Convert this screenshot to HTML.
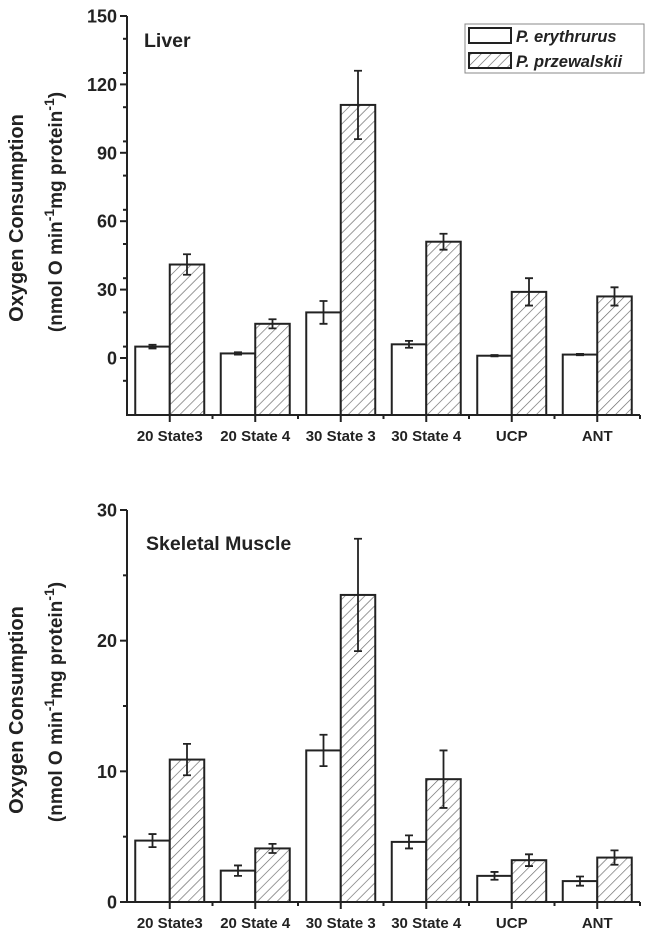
<!DOCTYPE html>
<html><head><meta charset="utf-8"><style>
html,body{margin:0;padding:0;background:#fff;}
svg{display:block;font-family:"Liberation Sans",Arial,sans-serif;}
</style></head><body>
<svg id="c" width="653" height="936" viewBox="0 0 653 936">
<defs>
<pattern id="hatch" patternUnits="userSpaceOnUse" width="7" height="7" patternTransform="rotate(45)">
<rect width="7" height="7" fill="#fff"/><line x1="0" y1="0" x2="0" y2="7" stroke="#666" stroke-width="1.3"/>
</pattern>
</defs>
</svg>
<script>
const categories = ["20 State3","20 State 4","30 State 3","30 State 4","UCP","ANT"];
const liverEry = [5, 2, 20, 6, 1, 1.5];
const liverEryErr = [0.8, 0.5, 5, 1.5, 0.3, 0.3];
const liverPrz = [41, 15, 111, 51, 29, 27];
const liverPrzErr = [4.5, 2, 15, 3.5, 6, 4];
const liverTicks = [0, 30, 60, 90, 120, 150];
const muscleEry = [4.7, 2.4, 11.6, 4.6, 2.0, 1.6];
const muscleEryErr = [0.5, 0.4, 1.2, 0.5, 0.3, 0.35];
const musclePrz = [10.9, 4.1, 23.5, 9.4, 3.2, 3.4];
const musclePrzErr = [1.2, 0.35, 4.3, 2.2, 0.45, 0.55];
const muscleTicks = [0, 10, 20, 30];

const svg = document.getElementById('c');
const NS = 'http://www.w3.org/2000/svg';
function mk(tag, attrs, parent){const e=document.createElementNS(NS,tag);for(const k in attrs)e.setAttribute(k,attrs[k]);(parent||svg).appendChild(e);return e;}

function panel(cfg){
  const g = mk('g',{});
  
  
  const x0=127, x1=640;
  const y = v => cfg.yTop + (cfg.vMax - v) / (cfg.vMax - cfg.vMin) * (cfg.yBot - cfg.yTop);
  const step = (x1 - x0) / categories.length;
  const xc = i => x0 + step * (i + 0.5);
  const bw = 34.5;
  for (let i=0;i<categories.length;i++){
    [[cfg.ery, cfg.eryErr, -1, '#fff', 'bar-erythrurus-'], [cfg.prz, cfg.przErr, 0, 'url(#hatch)', 'bar-przewalskii-']].forEach(([vals, errs, off, fill, nm])=>{
      const bx = xc(i) + off*bw;
      const top = y(vals[i]);
      const r = mk('rect',{x:bx,y:top,width:bw,height:cfg.yBot-top,fill:fill,stroke:'#222','stroke-width':2},g);
      
      
      const cx = bx + bw/2, ya = y(vals[i]+errs[i]), yb = y(vals[i]-errs[i]);
      const eb = mk('path',{d:`M${cx},${ya}V${yb}M${cx-4},${ya}H${cx+4}M${cx-4},${yb}H${cx+4}`,stroke:'#222','stroke-width':1.8,fill:'none'},g);
      
      
    });
  }
  mk('path',{d:`M${x0},${cfg.yTop}V${cfg.yBot}H${x1}`,stroke:'#222','stroke-width':2,fill:'none'},g);
  cfg.ticks.forEach((t,k)=>{
    const ty=y(t);
    mk('line',{x1:x0-7,y1:ty,x2:x0,y2:ty,stroke:'#222','stroke-width':2},g);
    const tl = mk('text',{x:x0-10,y:ty+6.5,'text-anchor':'end','font-size':18,'font-weight':'bold',fill:'#222'},g);
    tl.textContent = t;
    
    
  });
  const mstep = (cfg.ticks[1]-cfg.ticks[0])/2;
  for (let v=cfg.vMin; v<cfg.vMax; v+=mstep){
    if (cfg.ticks.indexOf(v)>=0 || v===cfg.vMin) continue;
    mk('line',{x1:x0-4,y1:y(v),x2:x0,y2:y(v),stroke:'#222','stroke-width':2},g);
  }
  for (let i=0;i<categories.length;i++){
    mk('line',{x1:xc(i),y1:cfg.yBot,x2:xc(i),y2:cfg.yBot+7,stroke:'#222','stroke-width':2},g);
    const mx = x0 + step*(i+1);
    mk('line',{x1:mx,y1:cfg.yBot,x2:mx,y2:cfg.yBot+4,stroke:'#222','stroke-width':2},g);
    const cl = mk('text',{x:xc(i),y:cfg.yBot+26,'text-anchor':'middle','font-size':15,'font-weight':'bold',fill:'#222'},g);
    cl.textContent = categories[i];
    
    
  }
  const tt = mk('text',{x:cfg.titleX,y:cfg.titleY,'font-size':19.5,'font-weight':'bold',fill:'#222'},g);
  tt.textContent = cfg.title;
  
  
  const t1 = mk('text',{x:0,y:0,'text-anchor':'middle','font-size':20,'font-weight':'bold',fill:'#222',transform:`translate(23,${cfg.labelCy}) rotate(-90)`},g);
  t1.textContent = 'Oxygen Consumption';
  
  
  const t2 = mk('text',{x:0,y:0,'text-anchor':'middle','font-size':19,'font-weight':'bold',fill:'#222',transform:`translate(62,${cfg.labelCy2}) rotate(-90)`},g);
  t2.innerHTML = '(nmol O min<tspan dy="-8" font-size="14">-1</tspan><tspan dy="8">mg protein</tspan><tspan dy="-8" font-size="14">-1</tspan><tspan dy="8">)</tspan>';
  
  
}

panel({name:'liver-chart', yTop:16, yBot:415, vMin:-25, vMax:150, ticks:liverTicks,
  ery:liverEry, eryErr:liverEryErr, prz:liverPrz, przErr:liverPrzErr,
  title:'Liver', titleX:144, titleY:47, labelCy:218, labelCy2:212});
panel({name:'muscle-chart', yTop:510, yBot:902, vMin:0, vMax:30, ticks:muscleTicks,
  ery:muscleEry, eryErr:muscleEryErr, prz:musclePrz, przErr:musclePrzErr,
  title:'Skeletal Muscle', titleX:146, titleY:550, labelCy:710, labelCy2:702});

const lg = mk('g',{});


mk('rect',{x:465,y:24,width:179,height:49,fill:'#fff',stroke:'#888','stroke-width':1},lg);
[['P. erythrurus','#fff',28],['P. przewalskii','url(#hatch)',53]].forEach(([txt,fill,yy])=>{
  const e = mk('g',{},lg);
  
  
  mk('rect',{x:469,y:yy,width:42,height:15,fill:fill,stroke:'#222','stroke-width':2},e);
  const t = mk('text',{x:516,y:yy+14,'font-size':16.5,'font-style':'italic','font-weight':'bold',fill:'#222'},e);
  t.textContent = txt;
});
</script>
</body></html>
